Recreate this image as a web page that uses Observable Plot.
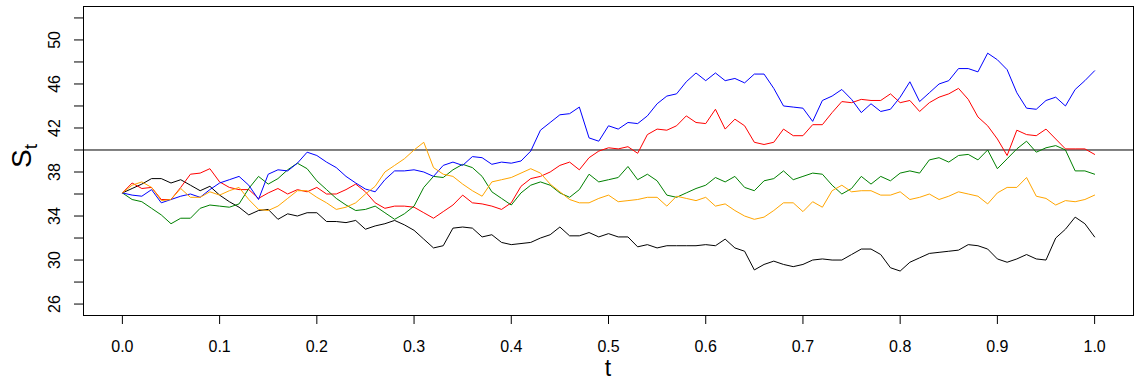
<!DOCTYPE html>
<html><head><meta charset="utf-8">
<script src="https://cdn.jsdelivr.net/npm/d3@7"></script>
<script src="https://cdn.jsdelivr.net/npm/@observablehq/plot@0.6"></script>
<style>body{margin:0;background:#fff} svg{display:block}</style>
</head><body><div id="chart"></div>
<script>
const tValues = d3.range(101).map(i => i / 100);

const blackPath = [36.1,36.5,36.9,37.4,37.4,37.0,37.3,36.8,36.3,36.7,35.9,35.3,34.8,34.1,34.5,34.6,33.7,34.2,34.0,34.3,34.3,33.5,33.5,33.4,33.6,32.8,33.1,33.3,33.6,33.2,32.7,31.9,31.1,31.3,32.9,33.0,32.9,32.1,32.3,31.6,31.4,31.5,31.6,32.0,32.3,33.0,32.2,32.2,32.5,32.1,32.4,32.1,32.1,31.2,31.4,31.1,31.3,31.3,31.3,31.3,31.4,31.3,31.9,31.1,30.8,29.1,29.6,29.9,29.6,29.4,29.6,30.0,30.1,30.0,30.0,30.5,31.0,31.0,30.5,29.3,29.0,29.8,30.2,30.6,30.7,30.8,30.9,31.4,31.3,31.0,30.1,29.8,30.1,30.5,30.1,30.0,32.0,32.8,33.9,33.3,32.1];

const redPath = [36.1,37.0,36.5,36.6,35.5,35.5,36.6,37.8,37.9,38.3,37.1,36.6,36.4,36.4,35.6,36.1,36.5,36.0,36.4,36.2,36.6,36.0,36.0,36.4,36.9,36.2,35.2,34.7,34.9,34.9,34.8,34.3,33.8,34.4,35.0,35.9,35.2,35.1,34.9,34.6,35.2,36.7,37.4,37.6,38.0,38.6,38.9,38.2,39.3,39.9,40.2,40.1,40.3,39.7,41.4,41.9,41.8,42.2,43.1,42.5,42.4,43.7,41.9,42.8,42.2,40.7,40.5,40.7,41.9,41.3,41.3,42.3,42.3,43.4,44.4,44.3,44.6,44.5,44.5,45.1,44.3,44.5,43.5,44.3,44.8,45.1,45.6,44.6,43.0,42.2,41.0,39.5,41.8,41.4,41.3,41.9,41.0,40.1,40.1,40.1,39.6];

const greenPath = [36.1,35.5,35.3,34.7,34.1,33.3,33.8,33.8,34.7,35.0,34.9,34.8,35.1,36.5,37.6,36.9,37.4,38.2,38.8,38.3,37.2,36.4,35.6,35.0,34.5,34.6,34.9,34.3,33.7,34.2,34.9,36.6,37.6,37.5,38.2,38.7,38.4,37.6,36.2,35.6,35.0,36.1,36.8,37.1,36.8,36.1,35.7,36.4,37.8,37.1,37.3,37.5,38.5,37.3,37.8,37.2,35.9,35.7,36.1,36.5,36.8,37.5,37.1,37.6,36.6,36.3,37.2,37.4,38.1,37.3,37.6,37.9,37.8,36.8,36.0,36.5,37.6,36.9,37.6,37.2,37.9,38.1,37.9,39.1,39.3,38.9,39.5,39.6,39.1,40.0,38.3,39.2,40.1,40.8,39.8,40.2,40.4,40.0,38.1,38.1,37.8];

const bluePath = [36.1,35.9,35.8,36.4,35.2,35.5,35.8,36.0,35.7,36.4,37.0,37.3,37.6,36.8,35.5,37.8,38.2,38.1,38.8,39.8,39.5,38.9,38.4,37.6,37.0,36.45,36.2,37.3,38.1,38.1,38.2,38.0,37.6,38.6,38.9,38.6,39.4,39.3,38.7,38.9,38.8,39.0,39.9,41.8,42.5,43.2,43.3,43.9,41.1,40.8,42.2,41.9,42.5,42.4,43.1,44.2,44.9,45.1,46.2,47.0,46.3,47.0,46.3,46.5,46.1,46.9,46.9,45.6,44.0,43.9,43.8,42.6,44.5,44.9,45.5,44.6,43.4,44.2,43.5,43.7,44.8,46.2,44.4,45.2,46.0,46.3,47.4,47.4,47.1,48.8,48.2,47.3,45.2,43.8,43.7,44.5,44.8,44.0,45.5,46.3,47.2];

const orangePath = [36.1,36.8,37.1,36.6,35.4,35.5,36.5,35.7,35.7,36.2,35.9,36.3,36.6,35.5,34.6,34.5,34.9,35.6,36.3,36.3,35.7,35.2,34.6,34.8,35.2,36.0,36.7,38.0,38.6,39.2,40.0,40.7,38.4,37.8,37.6,36.9,36.3,35.8,37.1,37.3,37.5,37.9,38.3,37.9,36.9,36.2,35.5,35.2,35.2,35.6,35.9,35.3,35.4,35.5,35.7,35.7,34.9,35.8,35.6,35.4,35.7,34.9,35.1,34.5,34.0,33.7,33.9,34.5,35.2,35.2,34.4,35.3,34.8,36.3,36.8,36.2,36.3,36.3,35.9,35.9,36.2,35.5,35.7,36.0,35.5,35.8,36.2,36.0,35.8,35.1,36.1,36.6,36.6,37.5,35.8,35.6,35.0,35.4,35.3,35.5,35.9];

const seriesNames = ["black", "red", "green", "blue", "orange"];
const seriesValues = [blackPath, redPath, greenPath, bluePath, orangePath];
const seriesColors = ["#000000", "#d83a3a", "#4f9a14", "#0000ff", "#ffa500"];

const xTicks = [0, 0.1, 0.2, 0.3, 0.4, 0.5, 0.6, 0.7, 0.8, 0.9, 1.0];
const yTicks = [26, 28, 30, 32, 34, 36, 38, 40, 42, 44, 46, 48, 50, 52];
const yLabelTicks = [26, 30, 34, 38, 42, 46, 50];
const barrier = [40];

const rows = [];
seriesNames.forEach((name, k) => {
  seriesValues[k].forEach((v, i) => rows.push({series: name, t: tValues[i], v}));
});

const chart = Plot.plot({
  width: 1140,
  height: 381,
  marginLeft: 83,
  marginRight: 7,
  marginTop: 6,
  marginBottom: 66,
  x: {domain: [-0.04, 1.04]},
  y: {domain: [24.96, 53.04]},
  color: {domain: seriesNames, range: seriesColors},
  style: {fontFamily: "'Liberation Sans', Arial, sans-serif", fontSize: "16px", background: "white", color: "black"},
  marks: [
    Plot.ruleY(barrier, {stroke: "black", strokeWidth: 1}),
    Plot.line(rows, {x: "t", y: "v", z: "series", stroke: "series", strokeWidth: 1}),
    Plot.frame({stroke: "black", strokeWidth: 1}),
    Plot.axisX({ticks: xTicks, tickFormat: d3.format(".1f"), tickSize: 9, tickPadding: 16, label: null, fontSize: 16}),
    Plot.axisY({ticks: yTicks, tickFormat: () => "", tickSize: 9, label: null}),
    Plot.text(yLabelTicks, {y: d => d, frameAnchor: "left", dx: -29, rotate: -90, text: d => String(d), fontSize: 16, fill: "black", textAnchor: "middle", lineAnchor: "middle"})
  ]
});

document.getElementById("chart").appendChild(chart);

const svg = d3.select(chart);
const yl = svg.append("text")
  .attr("transform", "translate(31,156) rotate(-90)")
  .attr("text-anchor", "middle")
  .attr("fill", "black")
  .style("font-family", "'Liberation Sans', Arial, sans-serif")
  .style("font-size", "28px");
yl.append("tspan").text("S");
yl.append("tspan").attr("dy", 6).style("font-size", "19px").text("t");

svg.append("text")
  .attr("x", 608)
  .attr("y", 376)
  .attr("text-anchor", "middle")
  .attr("fill", "black")
  .style("font-family", "'Liberation Sans', Arial, sans-serif")
  .style("font-size", "23px")
  .text("t");
</script>
</body></html>
